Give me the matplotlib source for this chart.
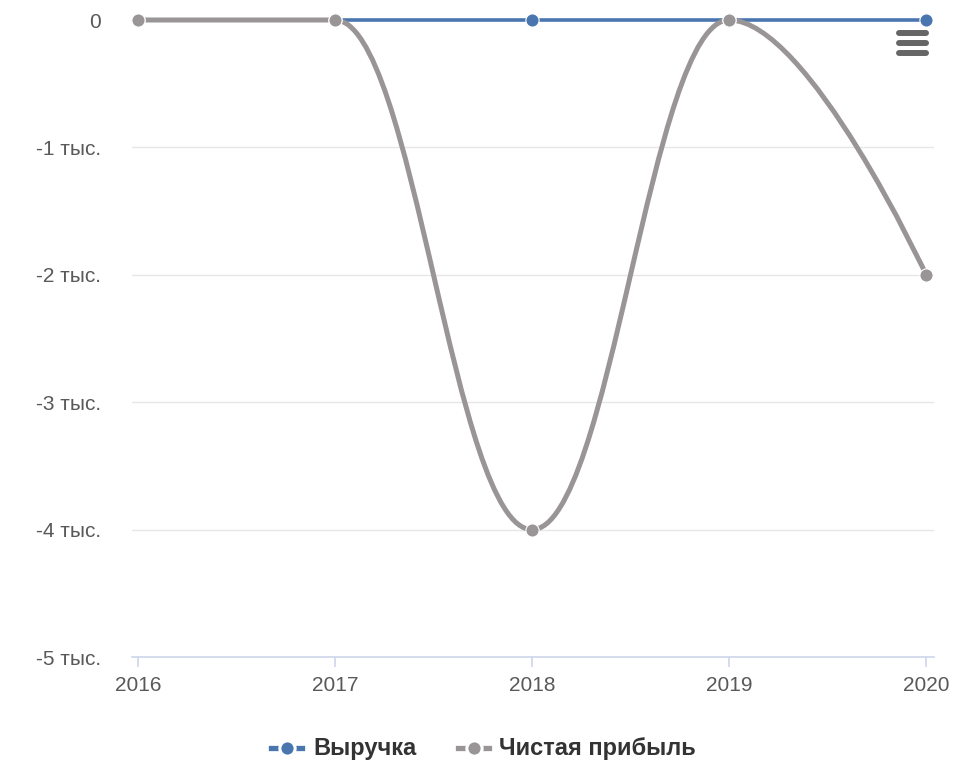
import numpy as np
import matplotlib
matplotlib.use("Agg")
import matplotlib.pyplot as plt
from matplotlib.path import Path
from matplotlib.patches import PathPatch
from matplotlib.lines import Line2D

plt.rcParams['font.family'] = ['Liberation Sans', 'DejaVu Sans']

years = ["2016", "2017", "2018", "2019", "2020"]
revenue = [0, 0, 0, 0, 0]
net_profit = [0, 0, -4000, 0, -2000]
series_names = ["Выручка", "Чистая прибыль"]
series_colors = ["#4a76b0", "#999596"]
yticks = [0, -1000, -2000, -3000, -4000, -5000]


def hc_spline(xs, ys, smoothing=1.5):
    """Highcharts-style spline as a cubic Bezier path."""
    n = len(xs)
    denom = smoothing + 1
    lc = [(xs[i], ys[i]) for i in range(n)]
    rc = [(xs[i], ys[i]) for i in range(n)]
    for i in range(1, n - 1):
        px, py = xs[i], ys[i]
        lx, ly = xs[i - 1], ys[i - 1]
        nx, ny = xs[i + 1], ys[i + 1]
        lcx = (smoothing * px + lx) / denom
        lcy = (smoothing * py + ly) / denom
        rcx = (smoothing * px + nx) / denom
        rcy = (smoothing * py + ny) / denom
        if rcx != lcx:
            corr = ((rcy - lcy) * (rcx - px)) / (rcx - lcx) + py - rcy
            lcy += corr
            rcy += corr
        if lcy > max(ly, py):
            lcy = max(ly, py); rcy = 2 * py - lcy
        elif lcy < min(ly, py):
            lcy = min(ly, py); rcy = 2 * py - lcy
        if rcy > max(py, ny):
            rcy = max(py, ny); lcy = 2 * py - rcy
        elif rcy < min(py, ny):
            rcy = min(py, ny); lcy = 2 * py - rcy
        lc[i] = (lcx, lcy)
        rc[i] = (rcx, rcy)
    verts = [(xs[0], ys[0])]
    codes = [Path.MOVETO]
    for i in range(1, n):
        verts += [rc[i - 1], lc[i], (xs[i], ys[i])]
        codes += [Path.CURVE4] * 3
    return Path(verts, codes)


W, H = 959, 781
fig = plt.figure(figsize=(W / 100, H / 100), dpi=100)
left, right, top, bottom = 132, 934, 20, 657
ax = fig.add_axes([left / W, 1 - bottom / H, (right - left) / W, (bottom - top) / H])

x = np.arange(len(years))
ax.set_xlim(-0.03, len(years) - 1 + 0.04)
ax.set_ylim(-5000, 0)

# grid
for v in yticks[1:-1]:
    ax.axhline(v, color="#e6e6e6", lw=1, zorder=0)

# series
for vals, col, lw in [(revenue, series_colors[0], 2.6), (net_profit, series_colors[1], 3.6)]:
    p = hc_spline(list(x.astype(float)), list(map(float, vals)))
    ax.add_patch(PathPatch(p, facecolor="none", edgecolor=col, lw=lw, clip_on=False,
                           capstyle="round", joinstyle="round", zorder=3))
    ax.plot(x, vals, ls="none", marker="o", ms=9.5, color=col, mec="white", mew=0.8,
            clip_on=False, zorder=4)

# axes styling
for s in ["top", "right", "left"]:
    ax.spines[s].set_visible(False)
ax.spines["bottom"].set_color("#ccd6eb")
ax.spines["bottom"].set_linewidth(1.2)
ax.set_xticks(x)
ax.set_xticklabels(years)
ax.tick_params(axis="x", length=7.5, color="#ccd6eb", width=1.2, labelsize=15, labelcolor="#595959", pad=6)
ax.set_yticks(yticks)
ax.set_yticklabels(["0" if v == 0 else f"{int(v/1000)} тыс." for v in yticks])
ax.tick_params(axis="y", length=0, labelsize=15, labelcolor="#595959", pad=22.3)

# menu icon
for yy in [33, 43, 53]:
    fig.add_artist(Line2D([899 / W, 926 / W], [1 - yy / H, 1 - yy / H], color="#666666",
                          lw=4.3, solid_capstyle="round"))

# legend
ly = 1 - 748 / H
items = [(271, 313, series_names[0], series_colors[0]), (458, 499, series_names[1], series_colors[1])]
for x0, tx, name, col in items:
    fig.add_artist(Line2D([x0 / W, (x0 + 31) / W], [ly, ly], color=col, lw=3.8))
    fig.add_artist(Line2D([(x0 + 15.5) / W], [ly], marker="o", ms=11, color=col, mec="white", mew=2.2))
    fig.text(tx / W, ly, name, fontsize=17, fontweight="bold", color="#333333", va="center", ha="left")

fig.savefig("out.png", dpi=100)
